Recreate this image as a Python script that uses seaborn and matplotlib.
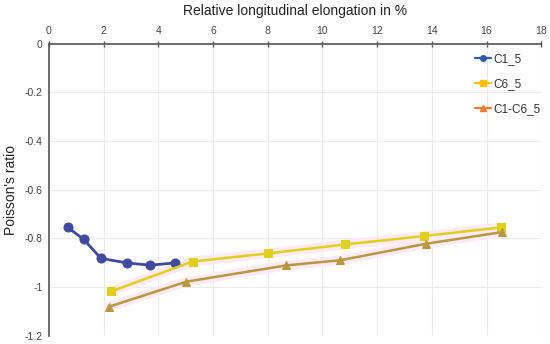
import pandas as pd
import matplotlib
matplotlib.use("Agg")
import matplotlib.pyplot as plt
from matplotlib.lines import Line2D
import seaborn as sns

# data
c1_x = [0.69, 1.27, 1.90, 2.86, 3.70, 4.60]
c1_y = [-0.755, -0.804, -0.882, -0.901, -0.910, -0.901]
c6_x = [2.27, 5.25, 8.00, 10.82, 13.73, 16.52]
c6_y = [-1.018, -0.895, -0.862, -0.825, -0.790, -0.755]
c16_x = [2.19, 5.02, 8.67, 10.64, 13.79, 16.58]
c16_y = [-1.081, -0.978, -0.911, -0.890, -0.822, -0.774]

names = ["C1_5", "C6_5", "C1-C6_5"]
x_ticks = [0, 2, 4, 6, 8, 10, 12, 14, 16, 18]
y_ticks = [0, -0.2, -0.4, -0.6, -0.8, -1, -1.2]
y_labels = ["0", "-0.2", "-0.4", "-0.6", "-0.8", "-1", "-1.2"]

sns.set_theme(style="white")
plt.rcParams["font.family"] = ["Liberation Sans", "DejaVu Sans"]

fig = plt.figure(figsize=(5.5, 3.44), dpi=100)
ax = fig.add_axes([0.089, 0.024, 0.895, 0.849])

series = [
    (c1_x, c1_y, "#3f4aa0", "o", 6.5, 2.0, False),
    (c6_x, c6_y, "#e0d01a", "s", 6.0, 1.8, True),
    (c16_x, c16_y, "#b8983e", "^", 6.0, 1.8, True),
]
for (xs, ys, col, mk, ms, lw, glow), name in zip(series, names):
    df = pd.DataFrame({"x": xs, "y": ys})
    if glow:
        # faint pink halo behind the line
        sns.lineplot(data=df, x="x", y="y", ax=ax, color="#fcebf6",
                     linewidth=7, sort=False, legend=False, zorder=2)
    sns.lineplot(data=df, x="x", y="y", ax=ax, color=col, marker=mk,
                 markersize=ms, markeredgecolor=col, linewidth=lw,
                 sort=False, legend=False, zorder=3)

ax.set_xlim(0, 18)
ax.set_ylim(-1.2, 0)
ax.set_xticks(x_ticks)
ax.set_yticks(y_ticks)
ax.set_yticklabels(y_labels)
ax.xaxis.tick_top()
ax.xaxis.set_label_position("top")
ax.set_xlabel("Relative longitudinal elongation in %", fontsize=10,
              color="#222222", labelpad=8)
ax.set_ylabel("Poisson's ratio", fontsize=10, color="#222222", labelpad=5)
ax.tick_params(axis="both", which="major", direction="inout", length=5,
               width=1, color="#555555", labelsize=7.5, labelcolor="#444444")
ax.tick_params(axis="x", pad=3)
ax.tick_params(axis="y", pad=2)

ax.grid(True, color="#ebebeb", linewidth=0.8, zorder=0)
ax.set_axisbelow(True)
for s in ["right", "bottom"]:
    ax.spines[s].set_visible(False)
for s in ["left", "top"]:
    ax.spines[s].set_color("#555555")
    ax.spines[s].set_linewidth(1.2)

handles = [
    Line2D([], [], color="#2f5aa8", marker="o", markersize=4, linewidth=1.6),
    Line2D([], [], color="#ffc000", marker="s", markersize=4.5, linewidth=1.6),
    Line2D([], [], color="#ed7d31", marker="^", markersize=4.5, linewidth=1.6),
]
ax.legend(handles, names, loc="upper right", bbox_to_anchor=(1.02, 1.005),
          frameon=False, fontsize=8.5, handlelength=1.3, handletextpad=0.2,
          labelspacing=1.1, labelcolor="#333333")

fig.savefig("out.png", dpi=100)
